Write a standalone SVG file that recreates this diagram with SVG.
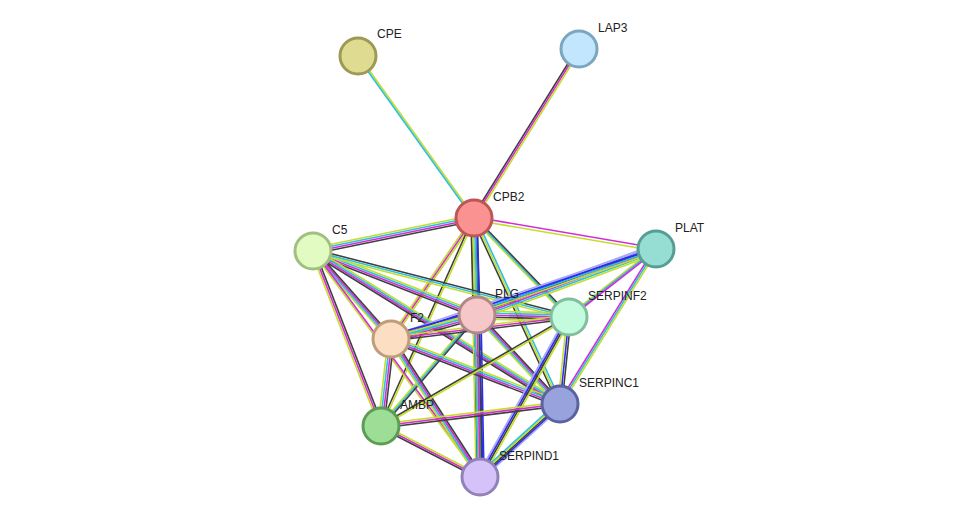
<svg xmlns="http://www.w3.org/2000/svg" width="975" height="523" viewBox="0 0 975 523">
<style>
line{stroke-width:1.6;fill:none}
.y{stroke:#c4dd2c}.c{stroke:#2cbfe0}.m{stroke:#d62cd6}.k{stroke:#404040}.b{stroke:#2c2cf0}.h{stroke:#a8a8f5}
circle{stroke-width:3}
text{font-family:"Liberation Sans",Arial,sans-serif;font-size:12px;fill:#222}
</style>
<rect width="975" height="523" fill="#fff"/>
<g id="edges">
<g><line class="y" x1="358" y1="56" x2="474" y2="218" transform="translate(1,0)"/><line class="c" x1="358" y1="56" x2="474" y2="218" transform="translate(-1,0)"/></g>
<g><line class="k" x1="579" y1="49" x2="474" y2="218" transform="translate(-2,0)"/><line class="m" x1="579" y1="49" x2="474" y2="218"/><line class="y" x1="579" y1="49" x2="474" y2="218" transform="translate(2,0)"/></g>
<g><line class="y" x1="474" y1="218" x2="313" y2="251" transform="translate(0,-3)"/><line class="c" x1="474" y1="218" x2="313" y2="251" transform="translate(0,-1)"/><line class="m" x1="474" y1="218" x2="313" y2="251" transform="translate(0,1)"/><line class="k" x1="474" y1="218" x2="313" y2="251" transform="translate(0,3)"/></g>
<g><line class="m" x1="474" y1="218" x2="656" y2="249" transform="translate(0,-1)"/><line class="y" x1="474" y1="218" x2="656" y2="249" transform="translate(0,2)"/></g>
<g><line class="y" x1="474" y1="218" x2="477" y2="315" transform="translate(-3,0)"/><line class="c" x1="474" y1="218" x2="477" y2="315" transform="translate(-1,0)"/><line class="k" x1="474" y1="218" x2="477" y2="315" transform="translate(1,0)"/><line class="k" x1="474" y1="218" x2="477" y2="315" transform="translate(3,0)"/></g>
<g><line class="y" x1="474" y1="218" x2="391" y2="339" transform="translate(-2,0)"/><line class="m" x1="474" y1="218" x2="391" y2="339"/><line class="y" x1="474" y1="218" x2="391" y2="339" transform="translate(2,0)"/></g>
<g><line class="y" x1="474" y1="218" x2="569" y2="317" transform="translate(-2,0)"/><line class="c" x1="474" y1="218" x2="569" y2="317"/><line class="k" x1="474" y1="218" x2="569" y2="317" transform="translate(2,0)"/></g>
<g><line class="k" x1="474" y1="218" x2="560" y2="404" transform="translate(-2,0)"/><line class="y" x1="474" y1="218" x2="560" y2="404"/><line class="c" x1="474" y1="218" x2="560" y2="404" transform="translate(2,0)"/></g>
<g><line class="k" x1="474" y1="218" x2="381" y2="426" transform="translate(-1,0)"/><line class="y" x1="474" y1="218" x2="381" y2="426" transform="translate(1,0)"/></g>
<g><line class="k" x1="474" y1="218" x2="480" y2="477" transform="translate(-3,0)"/><line class="y" x1="474" y1="218" x2="480" y2="477" transform="translate(-1,0)"/><line class="c" x1="474" y1="218" x2="480" y2="477" transform="translate(1,0)"/><line class="b" x1="474" y1="218" x2="480" y2="477" transform="translate(3,0)"/></g>
<g><line class="y" x1="313" y1="251" x2="477" y2="315" transform="translate(0,-3)"/><line class="c" x1="313" y1="251" x2="477" y2="315" transform="translate(0,-1)"/><line class="m" x1="313" y1="251" x2="477" y2="315" transform="translate(0,1)"/><line class="k" x1="313" y1="251" x2="477" y2="315" transform="translate(0,3)"/></g>
<g><line class="y" x1="313" y1="251" x2="391" y2="339" transform="translate(-3,0)"/><line class="c" x1="313" y1="251" x2="391" y2="339" transform="translate(-1,0)"/><line class="m" x1="313" y1="251" x2="391" y2="339" transform="translate(1,0)"/><line class="k" x1="313" y1="251" x2="391" y2="339" transform="translate(3,0)"/></g>
<g><line class="k" x1="313" y1="251" x2="569" y2="317" transform="translate(0,-2)"/><line class="c" x1="313" y1="251" x2="569" y2="317"/><line class="y" x1="313" y1="251" x2="569" y2="317" transform="translate(0,2)"/></g>
<g><line class="y" x1="313" y1="251" x2="560" y2="404" transform="translate(0,-3)"/><line class="c" x1="313" y1="251" x2="560" y2="404" transform="translate(0,-1)"/><line class="m" x1="313" y1="251" x2="560" y2="404" transform="translate(0,1)"/><line class="k" x1="313" y1="251" x2="560" y2="404" transform="translate(0,3)"/></g>
<g><line class="y" x1="313" y1="251" x2="381" y2="426" transform="translate(-2,0)"/><line class="m" x1="313" y1="251" x2="381" y2="426"/><line class="k" x1="313" y1="251" x2="381" y2="426" transform="translate(2,0)"/></g>
<g><line class="y" x1="313" y1="251" x2="480" y2="477" transform="translate(-1,0)"/><line class="m" x1="313" y1="251" x2="480" y2="477" transform="translate(1,0)"/></g>
<g><line class="h" x1="656" y1="249" x2="477" y2="315" transform="translate(0,-5)"/><line class="b" x1="656" y1="249" x2="477" y2="315" transform="translate(0,-3)"/><line class="k" x1="656" y1="249" x2="477" y2="315" transform="translate(0,-1)"/><line class="m" x1="656" y1="249" x2="477" y2="315" transform="translate(0,1)"/><line class="c" x1="656" y1="249" x2="477" y2="315" transform="translate(0,3)"/><line class="y" x1="656" y1="249" x2="477" y2="315" transform="translate(0,5)"/></g>
<g><line class="h" x1="656" y1="249" x2="391" y2="339" transform="translate(0,-3)"/><line class="b" x1="656" y1="249" x2="391" y2="339" transform="translate(0,-1)"/><line class="c" x1="656" y1="249" x2="391" y2="339" transform="translate(0,1)"/><line class="y" x1="656" y1="249" x2="391" y2="339" transform="translate(0,3)"/></g>
<g><line class="y" x1="656" y1="249" x2="569" y2="317" transform="translate(-2,0)"/><line class="c" x1="656" y1="249" x2="569" y2="317"/><line class="m" x1="656" y1="249" x2="569" y2="317" transform="translate(2,0)"/></g>
<g><line class="m" x1="656" y1="249" x2="560" y2="404" transform="translate(-2,0)"/><line class="c" x1="656" y1="249" x2="560" y2="404"/><line class="y" x1="656" y1="249" x2="560" y2="404" transform="translate(2,0)"/></g>
<g><line class="y" x1="477" y1="315" x2="569" y2="317" transform="translate(0,-4)"/><line class="c" x1="477" y1="315" x2="569" y2="317" transform="translate(0,-2)"/><line class="m" x1="477" y1="315" x2="569" y2="317"/><line class="k" x1="477" y1="315" x2="569" y2="317" transform="translate(0,2)"/><line class="y" x1="477" y1="315" x2="569" y2="317" transform="translate(0,4)"/></g>
<g><line class="b" x1="477" y1="315" x2="391" y2="339" transform="translate(0,-4)"/><line class="y" x1="477" y1="315" x2="391" y2="339" transform="translate(0,-2)"/><line class="c" x1="477" y1="315" x2="391" y2="339"/><line class="m" x1="477" y1="315" x2="391" y2="339" transform="translate(0,2)"/><line class="k" x1="477" y1="315" x2="391" y2="339" transform="translate(0,4)"/></g>
<g><line class="y" x1="477" y1="315" x2="560" y2="404" transform="translate(-3,0)"/><line class="c" x1="477" y1="315" x2="560" y2="404" transform="translate(-1,0)"/><line class="m" x1="477" y1="315" x2="560" y2="404" transform="translate(1,0)"/><line class="k" x1="477" y1="315" x2="560" y2="404" transform="translate(3,0)"/></g>
<g><line class="y" x1="477" y1="315" x2="381" y2="426" transform="translate(-2,0)"/><line class="c" x1="477" y1="315" x2="381" y2="426"/><line class="k" x1="477" y1="315" x2="381" y2="426" transform="translate(2,0)"/></g>
<g><line class="y" x1="477" y1="315" x2="480" y2="477" transform="translate(-4,0)"/><line class="c" x1="477" y1="315" x2="480" y2="477" transform="translate(-2,0)"/><line class="m" x1="477" y1="315" x2="480" y2="477"/><line class="k" x1="477" y1="315" x2="480" y2="477" transform="translate(2,0)"/><line class="b" x1="477" y1="315" x2="480" y2="477" transform="translate(4,0)"/></g>
<g><line class="y" x1="391" y1="339" x2="569" y2="317" transform="translate(0,-2)"/><line class="m" x1="391" y1="339" x2="569" y2="317"/><line class="k" x1="391" y1="339" x2="569" y2="317" transform="translate(0,2)"/></g>
<g><line class="y" x1="391" y1="339" x2="560" y2="404" transform="translate(0,-3)"/><line class="c" x1="391" y1="339" x2="560" y2="404" transform="translate(0,-1)"/><line class="m" x1="391" y1="339" x2="560" y2="404" transform="translate(0,1)"/><line class="k" x1="391" y1="339" x2="560" y2="404" transform="translate(0,3)"/></g>
<g><line class="y" x1="391" y1="339" x2="381" y2="426" transform="translate(-3,0)"/><line class="c" x1="391" y1="339" x2="381" y2="426" transform="translate(-1,0)"/><line class="m" x1="391" y1="339" x2="381" y2="426" transform="translate(1,0)"/><line class="k" x1="391" y1="339" x2="381" y2="426" transform="translate(3,0)"/></g>
<g><line class="y" x1="391" y1="339" x2="480" y2="477" transform="translate(-3,0)"/><line class="c" x1="391" y1="339" x2="480" y2="477" transform="translate(-1,0)"/><line class="m" x1="391" y1="339" x2="480" y2="477" transform="translate(1,0)"/><line class="k" x1="391" y1="339" x2="480" y2="477" transform="translate(3,0)"/></g>
<g><line class="y" x1="569" y1="317" x2="560" y2="404" transform="translate(-2,0)"/><line class="b" x1="569" y1="317" x2="560" y2="404"/><line class="k" x1="569" y1="317" x2="560" y2="404" transform="translate(2,0)"/></g>
<g><line class="h" x1="569" y1="317" x2="480" y2="477" transform="translate(-3,0)"/><line class="b" x1="569" y1="317" x2="480" y2="477" transform="translate(-1,0)"/><line class="k" x1="569" y1="317" x2="480" y2="477" transform="translate(1,0)"/><line class="y" x1="569" y1="317" x2="480" y2="477" transform="translate(3,0)"/></g>
<g><line class="k" x1="569" y1="317" x2="381" y2="426" transform="translate(0,-1)"/><line class="y" x1="569" y1="317" x2="381" y2="426" transform="translate(0,1)"/></g>
<g><line class="h" x1="560" y1="404" x2="480" y2="477" transform="translate(0,4)"/><line class="b" x1="560" y1="404" x2="480" y2="477" transform="translate(0,2)"/><line class="k" x1="560" y1="404" x2="480" y2="477"/><line class="y" x1="560" y1="404" x2="480" y2="477" transform="translate(0,-2)"/><line class="c" x1="560" y1="404" x2="480" y2="477" transform="translate(0,-4)"/></g>
<g><line class="y" x1="560" y1="404" x2="381" y2="426" transform="translate(0,-2)"/><line class="m" x1="560" y1="404" x2="381" y2="426"/><line class="k" x1="560" y1="404" x2="381" y2="426" transform="translate(0,2)"/></g>
<g><line class="k" x1="381" y1="426" x2="480" y2="477" transform="translate(0,2)"/><line class="m" x1="381" y1="426" x2="480" y2="477"/><line class="y" x1="381" y1="426" x2="480" y2="477" transform="translate(0,-2)"/></g>
</g>
<g id="CPE"><circle cx="358" cy="56" r="18" fill="#dfdc92" stroke="#9c9a55"/><text x="377" y="38">CPE</text></g>
<g id="LAP3"><circle cx="579" cy="49" r="18" fill="#c2e6fb" stroke="#7ca5c0"/><text x="598" y="32">LAP3</text></g>
<g id="CPB2"><circle cx="474" cy="218" r="18" fill="#fb9292" stroke="#be5656"/><text x="493" y="201">CPB2</text></g>
<g id="C5"><circle cx="313" cy="251" r="18" fill="#e1fbc2" stroke="#a1c080"/><text x="332" y="234">C5</text></g>
<g id="PLAT"><circle cx="656" cy="249" r="18" fill="#96ddd4" stroke="#569e95"/><text x="675" y="232">PLAT</text></g>
<g id="PLG"><circle cx="477" cy="315" r="18" fill="#f5c7c8" stroke="#b18788"/><text x="495" y="298">PLG</text></g>
<g id="SERPINF2"><circle cx="569" cy="317" r="18" fill="#c4fbde" stroke="#7fbf9c"/><text x="588" y="300">SERPINF2</text></g>
<g id="F2"><circle cx="391" cy="339" r="18" fill="#fcdfc2" stroke="#c09d7a"/><text x="410" y="322">F2</text></g>
<g id="SERPINC1"><circle cx="560" cy="404" r="18" fill="#98a2dd" stroke="#5a639f"/><text x="579" y="387">SERPINC1</text></g>
<g id="AMBP"><circle cx="381" cy="426" r="18" fill="#9ddd96" stroke="#5c9d55"/><text x="400" y="409">AMBP</text></g>
<g id="SERPIND1"><circle cx="480" cy="477" r="18" fill="#d4c2f9" stroke="#9381bb"/><text x="499" y="460">SERPIND1</text></g>
</svg>
